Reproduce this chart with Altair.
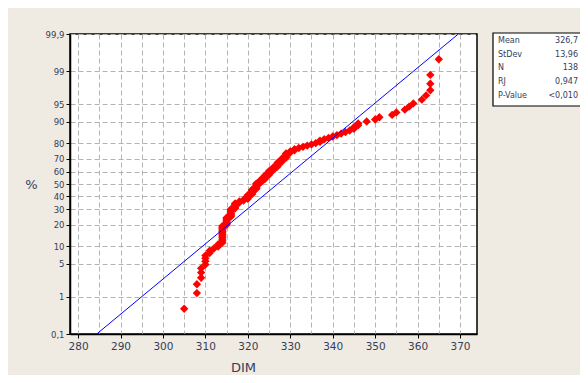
import altair as alt
import pandas as pd
from statistics import NormalDist

# ---- data ----
dim = [305, 308, 308, 309, 309, 309, 310, 310, 310, 310,
       311, 311, 312, 313, 313, 314, 314, 314, 314, 314,
       314, 314, 314, 314, 314, 314, 314, 315, 315, 315,
       315, 315, 315, 315, 316, 316, 316, 316, 316, 316,
       316, 316, 317, 317, 317, 317, 317, 317, 318, 318,
       319, 319, 320, 320, 320, 320, 320, 321, 321, 321,
       321, 321, 321, 322, 322, 322, 322, 322, 322, 322,
       323, 323, 323, 323, 324, 324, 324, 324, 324, 325,
       325, 325, 325, 325, 326, 326, 326, 326, 327, 327,
       327, 327, 327, 328, 328, 328, 328, 329, 329, 329,
       329, 329, 330, 330, 331, 331, 332, 333, 334, 335,
       336, 337, 337, 338, 339, 340, 341, 342, 343, 344,
       345, 345, 346, 346, 348, 350, 351, 354, 355, 357,
       358, 359, 361, 362, 363, 363, 363, 365]

pct = [0.51, 1.23, 1.95, 2.67, 3.40, 4.12, 4.84, 5.56, 6.29, 7.01,
       7.73, 8.45, 9.18, 9.90, 10.62, 11.34, 12.07, 12.79, 13.51, 14.23,
       14.96, 15.68, 16.40, 17.12, 17.85, 18.57, 19.29, 20.01, 20.74, 21.46,
       22.18, 22.90, 23.63, 24.35, 25.07, 25.79, 26.52, 27.24, 27.96, 28.68,
       29.41, 30.13, 30.85, 31.58, 32.30, 33.02, 33.74, 34.47, 35.19, 35.91,
       36.63, 37.36, 38.08, 38.80, 39.52, 40.25, 40.97, 41.69, 42.41, 43.14,
       43.86, 44.58, 45.30, 46.03, 46.75, 47.47, 48.19, 48.92, 49.64, 50.36,
       51.08, 51.81, 52.53, 53.25, 53.97, 54.70, 55.42, 56.14, 56.86, 57.59,
       58.31, 59.03, 59.75, 60.48, 61.20, 61.92, 62.64, 63.37, 64.09, 64.81,
       65.53, 66.26, 66.98, 67.70, 68.42, 69.15, 69.87, 70.59, 71.32, 72.04,
       72.76, 73.48, 74.21, 74.93, 75.65, 76.37, 77.10, 77.82, 78.54, 79.26,
       79.99, 80.71, 81.43, 82.15, 82.88, 83.60, 84.32, 85.04, 85.77, 86.49,
       87.21, 87.93, 88.66, 89.38, 90.10, 90.82, 91.55, 92.27, 92.99, 93.71,
       94.44, 95.16, 95.88, 96.60, 97.33, 98.05, 98.77, 99.49]

# fitted line end points (DIM at 0.1 % and 99.9 %)
line_dim = [284.4, 369.6]
line_pct = [0.1, 99.9]

y_tick_pct = [0.1, 1, 5, 10, 20, 30, 40, 50, 60, 70, 80, 90, 95, 99, 99.9]
x_grid = list(range(280, 371, 5))

stat_names = ["Mean", "StDev", "N", "RJ", "P-Value"]
stat_values = ["326,7", "13,96", "138", "0,947", "<0,010"]

# ---- probability (probit) transform ----
nd = NormalDist()
def probit(p):
    return nd.inv_cdf(p / 100.0)

pts = pd.DataFrame({"DIM": dim, "z": [probit(p) for p in pct], "pct": pct})
fit = pd.DataFrame({"DIM": line_dim, "z": [probit(p) for p in line_pct]})
y_ticks = [probit(p) for p in y_tick_pct]
zmax = probit(99.9)

W, H = 407, 300
grid_col = "#B4B4B4"
txt_col = "#34405A"

x_scale = alt.Scale(domain=[278.1, 374.0], nice=False, zero=False)
y_scale = alt.Scale(domain=[-zmax, zmax], nice=False, zero=False)

x_axis = alt.Axis(
    values=x_grid, tickCount=60,
    labelExpr="datum.value % 10 == 0 ? datum.label : ''",
    tickOpacity={"condition": {"test": "datum.value % 10 != 0", "value": 0}, "value": 1},
    grid=True, gridColor=grid_col, gridDash=[5, 3], gridWidth=1,
    domainColor="#000000", domainWidth=1.5, tickColor="#000000", tickSize=4,
    labelFont="DejaVu Sans", labelFontSize=10.5, labelColor=txt_col, labelPadding=3,
    labelOverlap=False,
    title="DIM", titleFont="DejaVu Sans", titleFontSize=13, titleFontWeight="normal",
    titleColor=txt_col, titleX=173, titleY=33, titleBaseline="middle", titleAnchor="start",
    titleAlign="center",
)
y_axis = alt.Axis(
    values=y_ticks, tickCount=60,
    labelExpr="replace(toString(round(cumulativeNormal(datum.value)*1000)/10), '.', ',')",
    grid=True, gridColor=grid_col, gridDash=[5, 3], gridWidth=1,
    domainColor="#000000", domainWidth=1.5, tickColor="#000000", tickSize=4,
    labelFont="DejaVu Sans", labelFontSize=8.5, labelColor=txt_col, labelPadding=2,
    labelOverlap=False,
    title="%", titleFont="DejaVu Sans", titleFontSize=13, titleFontWeight="normal",
    titleColor=txt_col, titleAngle=0, titleX=-39, titleY=150, titleAlign="center",
    titleBaseline="middle", titleAnchor="start",
)

points = alt.Chart(pts).mark_point(
    shape="diamond", filled=True, size=70, color="#FF0000", opacity=1
).encode(
    x=alt.X("DIM:Q", scale=x_scale, axis=x_axis),
    y=alt.Y("z:Q", scale=y_scale, axis=y_axis),
)

line = alt.Chart(fit).mark_line(color="#0000FF", strokeWidth=1, clip=True).encode(
    x=alt.X("DIM:Q", scale=x_scale),
    y=alt.Y("z:Q", scale=y_scale),
)

box = alt.Chart(pd.DataFrame({"a": [0]})).mark_rect(
    fill="#FFFFFF", stroke="#000000", strokeWidth=1.2, clip=False
).encode(x=alt.value(423), x2=alt.value(513), y=alt.value(-1), y2=alt.value(72))

names_txt = alt.Chart(pd.DataFrame({"a": [0]})).mark_text(
    align="left", baseline="top", lineBreak="\n", lineHeight=13.7,
    font="DejaVu Sans", fontSize=8, color=txt_col, clip=False
).encode(x=alt.value(428), y=alt.value(3), text=alt.value("\n".join(stat_names)))

vals_txt = alt.Chart(pd.DataFrame({"a": [0]})).mark_text(
    align="right", baseline="top", lineBreak="\n", lineHeight=13.7,
    font="DejaVu Sans", fontSize=8, color=txt_col, clip=False
).encode(x=alt.value(508), y=alt.value(3), text=alt.value("\n".join(stat_values)))

chart = alt.layer(points, line, box, names_txt, vals_txt).properties(
    width=W, height=H,
    background="#EFEBE3",
    padding={"left": 62, "top": 26, "right": 103, "bottom": 41},
    autosize=alt.AutoSizeParams(type="none"),
).configure_view(
    fill="#FFFFFF", stroke="#000000", strokeWidth=1.5
)

chart.save("out.html", embed_options={"renderer": "svg", "actions": False})
